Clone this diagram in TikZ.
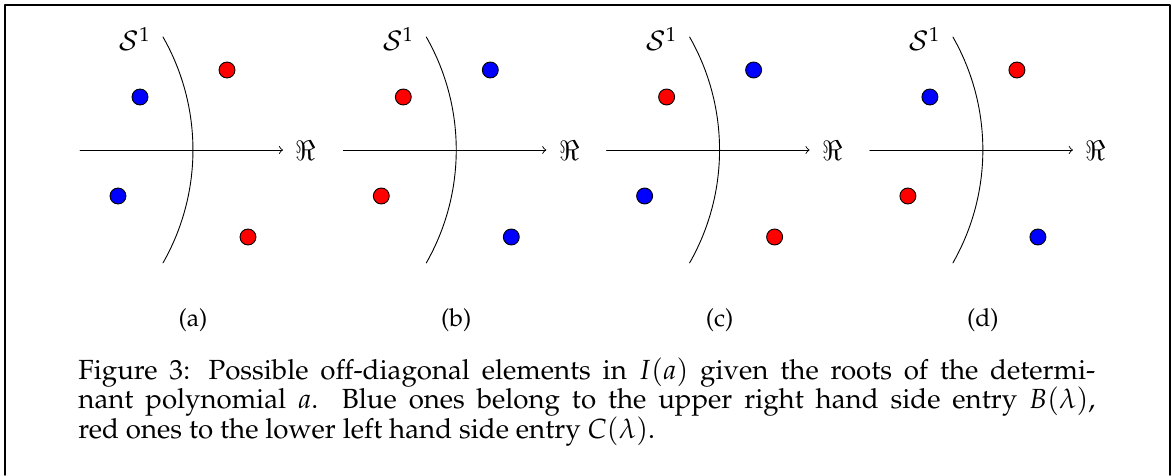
\documentclass[tikz,border=0pt]{standalone}
\usepackage[T1]{fontenc}
\usepackage{mathpazo}
\usepackage{amsmath}
\usepackage{tikz}
\usetikzlibrary{positioning}
\tikzset{
  every picture/.append style={line cap=round,line join=round},
  every node/.style={font=\fontsize{12}{13}\selectfont},
  root axis/.style={thin,->},
  root circle/.style={thin},
  root blue/.style={circle,draw=black,fill=blue,inner sep=0pt,minimum size=7.1pt},
  root red/.style={root blue,fill=red},
  root frame/.style={line width=0.7pt},
  root sub/.style={font=\fontsize{11}{13}\selectfont},
  root note/.style={inner sep=0pt,text width=452pt,align=justify,
    font=\fontsize{12.3}{13.1}\selectfont}
}
\begin{document}
\begin{tikzpicture}[x=0.4445pt,y=0.4445pt]
  \useasboundingbox (0,0) rectangle (1172,475);
  \draw[root frame] (5,0) -- (5,470) -- (1170,470) -- (1170,0);
  % four panels: colours of the roots top left / top right / bottom left / bottom right
  \foreach \lab/\ctl/\ctr/\cbl/\cbr [count=\k from 0] in
      {a/blue/red/blue/red,b/red/blue/red/blue,c/red/blue/blue/red,d/blue/red/red/blue}{
    \begin{scope}[shift={(163+\k*263.3,0)}]
      \coordinate (axl\lab) at (-83,325);
      \coordinate (axr\lab) at (120,325);
      \draw[root axis] (axl\lab) -- (axr\lab);
      \node (re\lab) at (143,324) {$\Re$};
      \draw[root circle] (0,438) arc[start angle=29.7,end angle=-29.7,radius=228];
      \node (s\lab) at (-28,436) {$\mathcal{S}^1$};
      \node[root \ctl] (tl\lab) at (-23,378) {};
      \node[root \ctr] (tr\lab) at (64,405) {};
      \node[root \cbl] (bl\lab) at (-45,279) {};
      \node[root \cbr] (br\lab) at (85,238) {};
      \node[root sub] (sub\lab) at (30,155) {(\lab)};
    \end{scope}
  }
  \node[root note,anchor=north west] (caption) at (78,118)
    {Figure 3: Possible off-diagonal elements in $I(a)$ given the roots of the determi-\linebreak
     nant polynomial $a$. Blue ones belong to the upper right hand side entry $B(\lambda)$,\linebreak
     red ones to the lower left hand side entry $C(\lambda)$.};
\end{tikzpicture}
\end{document}
